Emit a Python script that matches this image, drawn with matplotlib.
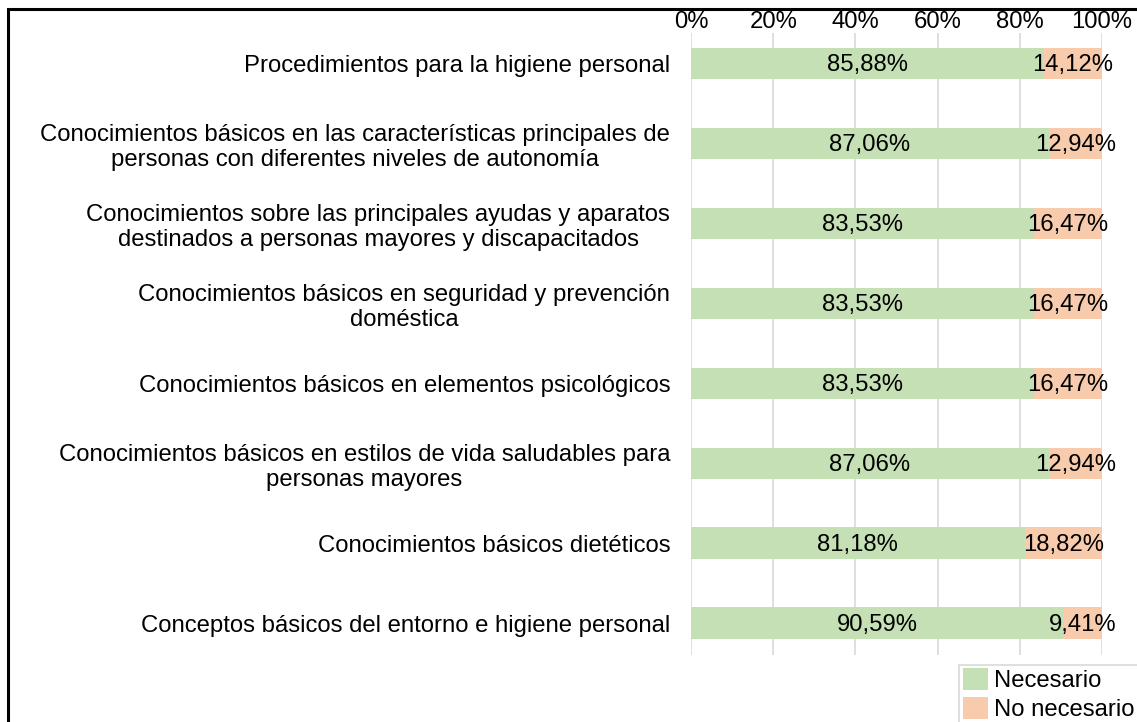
import matplotlib.pyplot as plt
from matplotlib.patches import Rectangle, Patch

# --- DATA ---
categories = [
    "Procedimientos para la higiene personal",
    "Conocimientos básicos en las características principales de\npersonas con diferentes niveles de autonomía",
    "Conocimientos sobre las principales ayudas y aparatos\ndestinados a personas mayores y discapacitados",
    "Conocimientos básicos en seguridad y prevención\ndoméstica",
    "Conocimientos básicos en elementos psicológicos",
    "Conocimientos básicos en estilos de vida saludables para\npersonas mayores",
    "Conocimientos básicos dietéticos",
    "Conceptos básicos del entorno e higiene personal",
]
necesario = [85.88, 87.06, 83.53, 83.53, 83.53, 87.06, 81.18, 90.59]
no_necesario = [14.12, 12.94, 16.47, 16.47, 16.47, 12.94, 18.82, 9.41]
x_ticks = [0, 20, 40, 60, 80, 100]

green = '#C5E0B4'
orange = '#F8CBAD'
fs = 17.2

plt.rcParams['font.family'] = ['Liberation Sans', 'DejaVu Sans']

fig = plt.figure(figsize=(11.37, 7.22), dpi=100)
ax = fig.add_axes([691 / 1137, 1 - 655 / 722, 411 / 1137, 622 / 722])

ypos = list(range(len(categories)))
ax.barh(ypos, necesario, height=0.39, color=green, zorder=2)
ax.barh(ypos, no_necesario, left=necesario, height=0.39, color=orange, zorder=2)

def fmt(v):
    return f"{v:.2f}%".replace('.', ',')

for y, a, b in zip(ypos, necesario, no_necesario):
    ax.text(a / 2, y + 0.02, fmt(a), ha='center', va='center', fontsize=fs, zorder=3)
    ax.text(a + b / 2, y + 0.02, fmt(b), ha='center', va='center', fontsize=fs, zorder=3)

ax.set_xlim(0, 100)
ax.set_ylim(7.4, -0.38)
ax.set_xticks(x_ticks)
ax.set_xticklabels([f"{t}%" for t in x_ticks], fontsize=fs)
ax.xaxis.tick_top()
ax.tick_params(axis='x', length=0, pad=0)
ax.set_yticks(ypos)
ax.set_yticklabels(categories, fontsize=fs, multialignment='center')
ax.tick_params(axis='y', length=0, pad=15)
ax.grid(axis='x', color='#d9d9d9', linewidth=1.2, zorder=0)
ax.set_axisbelow(True)
for s in ax.spines.values():
    s.set_visible(False)

# legend, its box runs off the bottom right like the original
handles = [Patch(facecolor=green, label='Necesario'),
           Patch(facecolor=orange, label='No necesario')]
fig.legend(handles=handles, loc='upper left',
           bbox_to_anchor=(959 / 1137, 1 - 664 / 722),
           fontsize=fs, frameon=False,
           handlelength=1.05, handleheight=1.05, handletextpad=0.25,
           labelspacing=0.2, borderpad=0.15, borderaxespad=0)
fig.patches.append(Rectangle((959 / 1137, -0.5), 1.0, 0.5 + 1 - 665 / 722,
                             transform=fig.transFigure, fill=False,
                             edgecolor='#d9d9d9', linewidth=1.2, clip_on=False))

# outer frame line (top and left visible)
fig.patches.append(Rectangle((8 / 1137, -0.2), 1.3, 1.2 - 8.5 / 722,
                             transform=fig.transFigure, fill=False,
                             edgecolor='black', linewidth=2.2, clip_on=False))

fig.savefig('out.png', dpi=100)
